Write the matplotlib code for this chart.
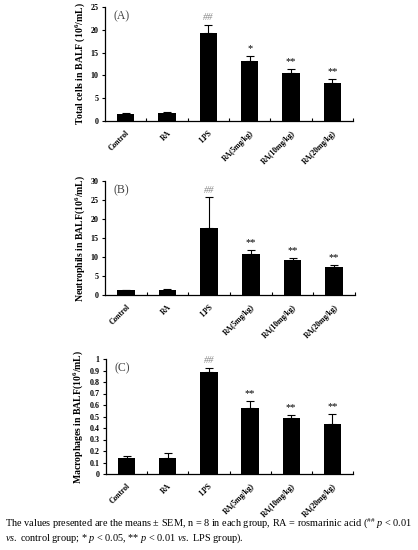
import matplotlib
matplotlib.use("Agg")
import matplotlib.pyplot as plt
import numpy as np

plt.rcParams['font.family'] = ['Liberation Serif', 'DejaVu Serif']
plt.rcParams['mathtext.fontset'] = 'custom'
plt.rcParams['mathtext.rm'] = 'Liberation Serif'
plt.rcParams['mathtext.it'] = 'Liberation Serif:italic'
plt.rcParams['mathtext.bf'] = 'Liberation Serif:bold'

categories = ["Control", "RA", "LPS", "RA(5mg/kg)", "RA(10mg/kg)", "RA(20mg/kg)"]

total_means = [1.6, 1.8, 19.4, 13.2, 10.5, 8.3]
total_sem = [0.1, 0.2, 1.7, 1.1, 1.0, 0.9]
total_marks = ["", "", "##", "*", "**", "**"]
total_ticks = [0, 5, 10, 15, 20, 25]

neut_means = [1.3, 1.4, 17.6, 10.9, 9.2, 7.5]
neut_sem = [0.1, 0.2, 8.1, 1.0, 0.5, 0.5]
neut_marks = ["", "", "##", "**", "**", "**"]
neut_ticks = [0, 5, 10, 15, 20, 25, 30]

macro_means = [0.137, 0.143, 0.888, 0.578, 0.488, 0.435]
macro_sem = [0.02, 0.037, 0.035, 0.057, 0.024, 0.085]
macro_marks = ["", "", "##", "**", "**", "**"]
macro_ticks = [0, 0.1, 0.2, 0.3, 0.4, 0.5, 0.6, 0.7, 0.8, 0.9, 1]
macro_ticklabels = ["0", "0.1", "0.2", "0.3", "0.4", "0.5", "0.6", "0.7", "0.8", "0.9", "1"]

W, H = 418, 550
fig = plt.figure(figsize=(W / 100, H / 100), dpi=100)

def box(l, r, t, b):
    return [l / W, 1 - b / H, (r - l) / W, (b - t) / H]

panels = [
    (box(105, 353, 7, 121), total_means, total_sem, total_marks, total_ticks,
     [str(t) for t in total_ticks], r"Total cells in BALF (10$^{\mathbf{6}}$/mL)", "(A)"),
    (box(105, 355, 181, 295), neut_means, neut_sem, neut_marks, neut_ticks,
     [str(t) for t in neut_ticks], r"Neutrophils in BALF(10$^{\mathbf{6}}$/mL)", "(B)"),
    (box(106, 353, 359, 474), macro_means, macro_sem, macro_marks, macro_ticks,
     macro_ticklabels, r"Macrophages in BALF(10$^{\mathbf{6}}$/mL)", "(C)"),
]

for rect, means, sem, marks, yt, ytl, ylab, letter in panels:
    ax = fig.add_axes(rect)
    x = np.arange(len(categories))
    ax.bar(x, means, width=0.42, color="black", zorder=2)
    ax.errorbar(x, means, yerr=[np.zeros(len(sem)), sem], fmt="none",
                ecolor="black", elinewidth=0.8, capsize=3, capthick=0.8, zorder=3)
    top = yt[-1]
    ax.set_ylim(0, top)
    ax.set_xlim(-0.5, len(categories) - 0.5)
    for xi, m, s, mk in zip(x, means, sem, marks):
        if mk:
            col = "#8a8a8a" if mk == "##" else "black"
            ax.annotate(mk, (xi, m + s), xytext=(0, 2), textcoords="offset points",
                        ha="center", va="bottom", fontsize=7.5, color=col,
                        style="italic" if mk == "##" else "normal")
    ax.set_yticks(yt)
    ax.set_yticklabels(ytl, fontsize=5.8, fontweight="bold")
    ax.tick_params(axis="y", direction="out", length=2.5, width=0.8, pad=2)
    ax.set_xticks(x)
    ax.set_xticklabels(categories, rotation=45, ha="right", rotation_mode="anchor",
                       fontsize=5.5, fontweight="bold")
    ax.tick_params(axis="x", length=0, pad=6)
    ax.set_xticks(np.arange(0.5, len(categories), 1.0), minor=True)
    ax.tick_params(axis="x", which="minor", direction="in", length=2, width=0.8)
    for sp in ["top", "right"]:
        ax.spines[sp].set_visible(False)
    for sp in ["left", "bottom"]:
        ax.spines[sp].set_linewidth(0.9)
    ax.set_ylabel(ylab, fontsize=7, fontweight="bold", labelpad=3)
    ax.text(0.035, 0.97, letter, transform=ax.transAxes, ha="left", va="top",
            fontsize=8.5, color="#444444")

caption1 = (r"The values presented are the means ± SEM, n = 8 in each group, RA = rosmarinic acid ("
            r"$^{\#\#}$ $\mathit{p}$ < 0.01")
caption2 = r"$\mathit{vs.}$ control group; * $\mathit{p}$ < 0.05, ** $\mathit{p}$ < 0.01 $\mathit{vs.}$ LPS group)."
fig.text(5 / W, 1 - 523 / H, caption1, fontsize=7.4, ha="left", va="center")
fig.text(5 / W, 1 - 538 / H, caption2, fontsize=7.4, ha="left", va="center")

fig.savefig("out.png", dpi=100)
